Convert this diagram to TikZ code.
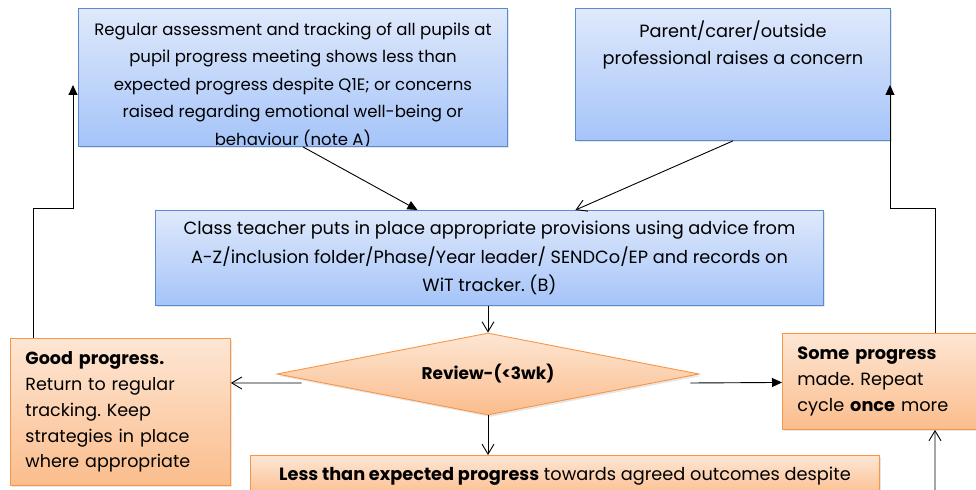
\documentclass[tikz,border=0pt]{standalone}
\usepackage{fontspec}
\setmainfont{Poppins}
\usetikzlibrary{positioning, shapes.geometric, arrows.meta, shadows}
\definecolor{blueTop}{HTML}{DFE9FB}
\definecolor{blueBottom}{HTML}{A5C4F9}
\definecolor{blueLine}{HTML}{5A8AD0}
\definecolor{orangeTop}{HTML}{FDE6D4}
\definecolor{orangeBottom}{HTML}{FBBD8C}
\definecolor{orangeLine}{HTML}{F79646}
\tikzstyle{boxshadow} = [drop shadow={shadow xshift=2bp, shadow yshift=-2bp, opacity=.2}]
\tikzstyle{bluebox} = [draw=blueLine, rectangle, top color=blueTop, bottom color=blueBottom, boxshadow, inner sep=0pt, anchor=north west]
\tikzstyle{orangefill} = [draw=orangeLine, top color=orangeTop, bottom color=orangeBottom, boxshadow]
\tikzstyle{orangebox} = [orangefill, rectangle, anchor=north west]
\tikzstyle{arrow} = [-{Triangle[length=10bp,width=9bp]}]
\tikzstyle{openarrow} = [-{Straight Barb[length=10bp,width=12bp]}]
\newcommand{\boxfont}{\fontsize{17.8}{27}\selectfont}
\frenchspacing

\begin{document}
\begin{tikzpicture}[x=1bp, y=-1bp, line width=0.9bp, font=\boxfont, align=center]
        \clip (0,0) rectangle (976,490);

        % Regular assessment
        \node[bluebox, minimum width=429bp, minimum height=138bp] (assess) at (78,8) {};
        \begin{scope}
            \clip ([yshift=-1bp]assess.north west) rectangle ([yshift=1bp]assess.south east);
            \node[below=14bp of assess.north, inner sep=0pt, font=\fontsize{16.6}{27.6}\selectfont] (assessText) {Regular assessment and tracking of all pupils at\\pupil progress meeting shows less than\\expected progress despite Q1E; or concerns\\raised regarding emotional well-being or\\behaviour (note A)};
        \end{scope}

        % Outside concern
        \node[bluebox, minimum width=315bp, minimum height=132bp] (concern) at (575,8) {};
        \node[below=12.5bp of concern.north, inner sep=0pt] (concernText) {Parent/carer/outside\\professional raises a concern};

        % Class teacher
        \node[bluebox, minimum width=668bp, minimum height=95bp, font=\fontsize{17.8}{29}\selectfont] (teacher) at (155,210) {Class teacher puts in place appropriate provisions using advice from\\A-Z/inclusion folder/Phase/Year leader/ SENDCo/EP and records on\\WiT tracker. (B)};

        % Review
        \node[orangefill, diamond, aspect=5.15, minimum width=422bp, minimum height=82bp, inner sep=0pt, font=\fontsize{17}{20}\selectfont\bfseries] (review) at (488,374) {Review-(<3wk)};

        % Outcomes
        \node[orangebox, minimum width=220bp, minimum height=147bp, text width=190bp, align=left, inner xsep=14bp, font=\fontsize{17.6}{26}\selectfont] (good) at (10,338) {\textbf{Good progress.}\\Return to regular\\tracking. Keep\\strategies in place\\where appropriate};
        \node[orangebox, minimum width=220bp, minimum height=96bp, text width=190bp, align=left, inner xsep=15bp, font=\fontsize{17.8}{26.5}\selectfont] (some) at (782,333) {\textbf{Some progress}\\made. Repeat\\cycle \textbf{once} more};
        \node[orangebox, minimum width=629bp, minimum height=42bp] (less) at (250,455) {\textbf{Less than expected progress} towards agreed outcomes despite};

        \coordinate (backL) at (73,85);
        \coordinate (backR) at (890,85);
        \coordinate (fromBelow) at (935,495);

        % Arrows
        \draw[arrow] ([xshift=10bp]assess.south) -- ([xshift=-72bp]teacher.north);
        \draw[openarrow] (concern.south) -- ([xshift=86bp]teacher.north);
        \draw[openarrow] (teacher.south -| review.north) -- (review.north);
        \draw[openarrow] ([xshift=25bp,yshift=-9bp]review.west) -- ([yshift=29bp]good.east);
        \draw[arrow] ([xshift=-9bp,yshift=-9bp]review.east) -- ([yshift=-1bp]some.west);
        \draw[openarrow] (review.south) -- (review.south |- less.north);

        % Back to tracking
        \draw[arrow] ([xshift=23bp]good.north west) -- ++(0,-130) -| (backL);
        \draw[arrow] ([xshift=153bp]some.north west) -- ++(0,-125) -| (backR);
        \draw[openarrow] (fromBelow) -- ([xshift=153bp]some.south west);

    \end{tikzpicture}
\end{document}
